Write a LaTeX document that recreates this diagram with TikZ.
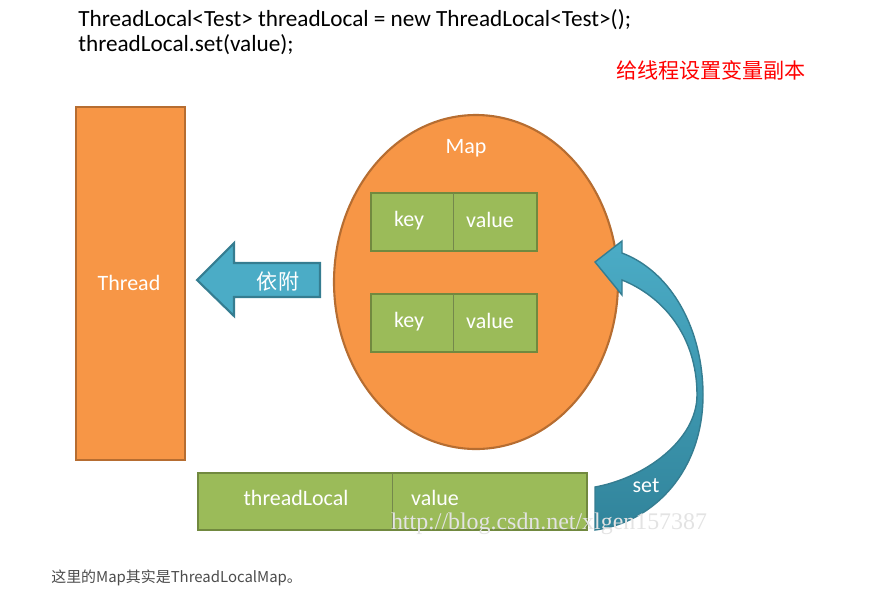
\documentclass[tikz,border=0pt]{standalone}
\usepackage{fontspec}
\setmainfont{Carlito}
\newfontfamily\cjk{Noto Sans CJK SC}
\newfontfamily\wmfont{Liberation Serif}
\usepackage{tikz}
\usetikzlibrary{arrows.meta}

\definecolor{tlorange}{HTML}{F79646}
\definecolor{tlorangeline}{HTML}{B66D31}
\definecolor{tlgreen}{HTML}{9BBB59}
\definecolor{tlgreenline}{HTML}{71893F}
\definecolor{tlblue}{HTML}{4BACC6}
\definecolor{tldarkblue}{HTML}{31849B}
\definecolor{tlblueline}{HTML}{357D91}

\begin{document}
\begin{tikzpicture}[x=0.02cm,y=-0.02cm,
    orangebox/.style={fill=tlorange,draw=tlorangeline,line width=1.2pt},
    greenbox/.style={fill=tlgreen,draw=tlgreenline,line width=1.2pt},
    label/.style={text=white,font=\fontsize{12.5}{14}\selectfont,inner sep=0pt}]

\useasboundingbox (0,0) rectangle (874,606);

% code on top
\node [anchor=west,inner sep=0pt,font=\fontsize{13.2}{15}\selectfont] (codea) at (78,20) {ThreadLocal<Test> threadLocal = new ThreadLocal<Test>();};
\node [anchor=west,inner sep=0pt,font=\fontsize{13.2}{15}\selectfont] (codeb) at (78,45) {threadLocal.set(value);};

\node [inner sep=0pt,text=red,font=\cjk\fontsize{12}{14}\selectfont] (title) at (711,70) {给线程设置变量副本};

% thread
\draw [orangebox] (76,107) rectangle (185,460);
\node [label] (thread) at (129,283) {Thread};

% map
\draw [orangebox] (476,282) ellipse [x radius=142,y radius=167];
\node [label] (map) at (466,148) {Map};

\draw [greenbox] (371,193) rectangle (537,251);
\draw [tlgreenline!80!gray] (453,193) -- (453,251);
\node [label] (keya) at (409,221) {key};
\node [label] (valuea) at (490,220) {value};

\draw [greenbox] (371,294) rectangle (537,352);
\draw [tlgreenline!80!gray] (453,294) -- (453,352);
\node [label] (keyb) at (409,322) {key};
\node [label] (valueb) at (490,321) {value};

% 依附
\draw [fill=tlblue,draw=tlblueline,line width=1.2pt,line join=miter]
    (197,280) -- (234,243) -- (234,263) -- (320,263) -- (320,297) -- (234,297) -- (234,316) -- cycle;
\node [inner sep=0pt,text=white,font=\cjk\fontsize{12}{14}\selectfont] (yifu) at (278,282) {依附};

% threadLocal entry
\draw [greenbox] (198,473) rectangle (587,530);
\draw [tlgreenline!80!gray] (392,473) -- (392,530);
\node [label] (tl) at (296,498) {threadLocal};
\node [label] (tlvalue) at (435,498) {value};

% set arrow
\path [top color=tlblue,bottom color=tldarkblue,draw=tlblueline,line width=0.8pt]
    (595,262) -- (622,241) -- (622,253)
    .. controls (672,272) and (703,330) .. (703,395)
    .. controls (703,470) and (655,522) .. (595,530)
    -- (595,487)
    .. controls (645,478) and (697,440) .. (697,395)
    .. controls (697,335) and (662,296) .. (622,280)
    -- (622,295) -- cycle;
\node [label] (set) at (646,486) {set};

\node [inner sep=0pt,text=gray!22,font=\wmfont\fontsize{13.6}{15}\selectfont] (mark) at (549,524) {http://blog.csdn.net/xlgen157387};

\node [anchor=west,inner sep=0pt,text=black!70,font=\cjk\fontsize{8.5}{10}\selectfont] (note) at (51,578) {这里的Map其实是ThreadLocalMap。};
\end{tikzpicture}
\end{document}
